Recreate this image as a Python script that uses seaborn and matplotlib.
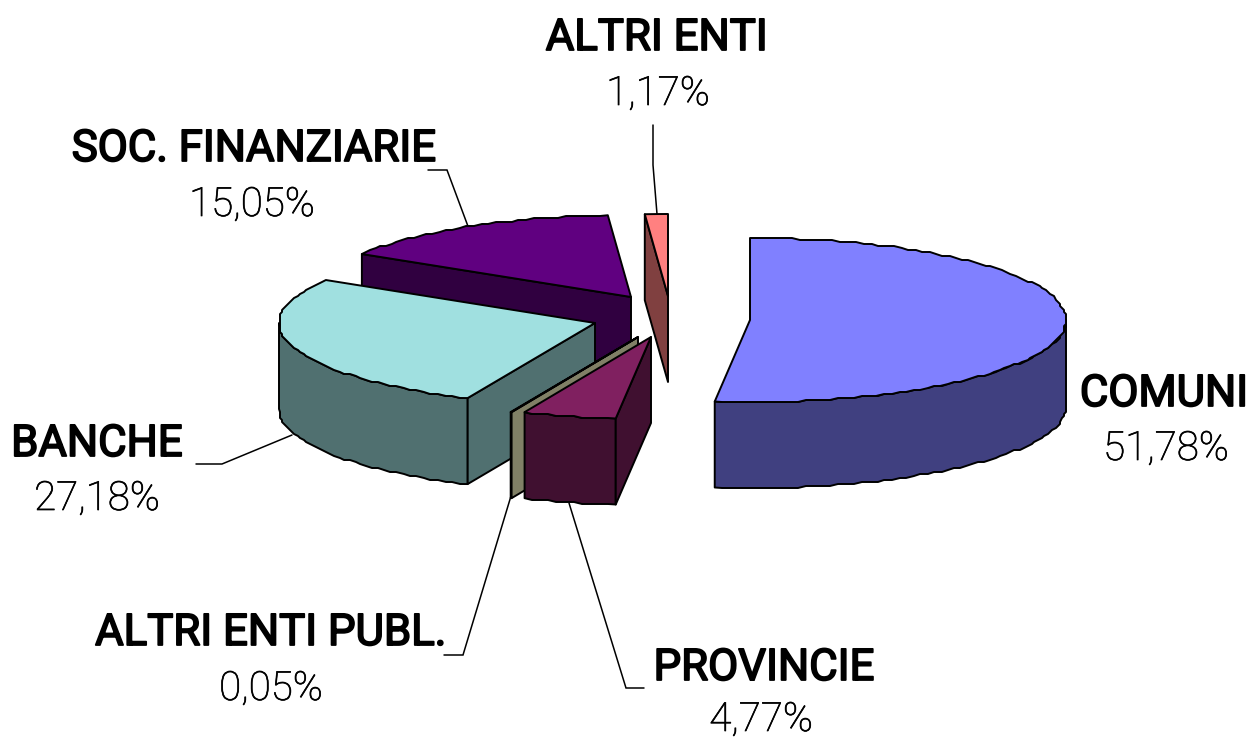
import numpy as np
import pandas as pd
import matplotlib
matplotlib.use('Agg')
import matplotlib.pyplot as plt
import matplotlib.patheffects as pe
from matplotlib.patches import Polygon
import seaborn as sns

# values of the chart, clockwise from 12 o'clock
categories = ['COMUNI', 'PROVINCIE', 'ALTRI ENTI PUBL.', 'BANCHE', 'SOC. FINANZIARIE', 'ALTRI ENTI']
shares = [51.78, 4.77, 0.05, 27.18, 15.05, 1.17]
pct_labels = ['51,78%', '4,77%', '0,05%', '27,18%', '15,05%', '1,17%']

# layout, in image pixels
apex_x = [750, 651, 638, 595, 631, 668]
apex_y = [320, 337, 337, 323, 297, 296]
name_pos = [(1164, 406), (764, 680), (271, 645), (97, 456), (254, 161), (657, 50)]
pct_pos = [(1166, 460), (761, 731), (271, 700), (97, 510), (252, 216), (658, 105)]
leaders = [
    None,
    [(644, 688), (626, 688), (569, 503)],
    [(444, 655), (463, 655), (511, 496)],
    [(196, 464), (222, 464), (292, 435)],
    [(428, 170), (447, 170), (469, 229)],
    [(653, 125), (653, 165), (657, 214)],
]
top_colors = ['#8080FF', '#802060', '#FFFFCC', '#A0E0E0', '#600080', '#FF8080']
RX, RY, DEPTH = 316, 82, 86
draw_order = [5, 4, 3, 2, 1, 0]

sns.set_theme(style='white')
plt.rcParams['font.family'] = ['Roboto', 'Liberation Sans', 'DejaVu Sans']
palette = sns.color_palette(top_colors)

df = pd.DataFrame({'name': categories, 'share': shares, 'pct': pct_labels})
df['end'] = df['share'].cumsum() / df['share'].sum() * 360
df['start'] = df['end'].shift(1, fill_value=0)


def arc(cx, cy, a0, a1):
    # ellipse arc, snapped to a small grid to get the rough outline of the original
    n = max(2, int(abs(a1 - a0) / 1.5) + 1)
    t = np.radians(np.linspace(a0, a1, n))
    pts = np.column_stack([cx + RX * np.sin(t), cy - RY * np.cos(t)])
    if n > 3:
        pts[1:-1] = np.round(pts[1:-1] / 2) * 2
    return pts


fig = plt.figure(figsize=(12.5, 7.37), dpi=100)
ax = fig.add_axes([0, 0, 1, 1])
ax.set_xlim(0, 1250)
ax.set_ylim(737, 0)
ax.axis('off')

for pts in leaders:
    if pts:
        xs, ys = zip(*pts)
        ax.plot(xs, ys, color='black', lw=1.1, solid_joinstyle='miter', zorder=0.5)

for z, i in enumerate(draw_order):
    row = df.iloc[i]
    cx, cy = apex_x[i], apex_y[i]
    top = np.array(palette[i])
    side = top * 0.5
    style = dict(edgecolor='black', linewidth=1.4, joinstyle='round', zorder=1 + z)

    # outer wall, only the front half of the rim
    a0, a1 = max(row['start'], 90), min(row['end'], 270)
    if a1 > a0:
        rim = arc(cx, cy, a0, a1)
        wall = np.vstack([rim, rim[::-1] + [0, DEPTH]])
        ax.add_patch(Polygon(wall, facecolor=side, **style))

    # cut face at the start angle, seen when it turns toward the viewer
    if np.sin(np.radians(row['start'])) < -0.01:
        outer = arc(cx, cy, row['start'], row['start'])[0]
        face = np.array([outer, [cx, cy], [cx, cy + DEPTH], outer + [0, DEPTH]])
        ax.add_patch(Polygon(face, facecolor=side, **style))

    # top of the slice
    rim = arc(cx, cy, row['start'], row['end'])
    ax.add_patch(Polygon(np.vstack([[cx, cy], rim]), facecolor=top, **style))

for i, row in df.iterrows():
    ax.text(*name_pos[i], row['name'], ha='center', va='baseline', fontsize=31.5, color='black',
            path_effects=[pe.withStroke(linewidth=1.3, foreground='black')], zorder=20)
    ax.text(*pct_pos[i], row['pct'], ha='center', va='baseline', fontsize=29, color='black',
            fontweight='light', path_effects=[pe.withStroke(linewidth=0.5, foreground='black')],
            zorder=20)

fig.savefig('out.png', dpi=100, facecolor='white')
